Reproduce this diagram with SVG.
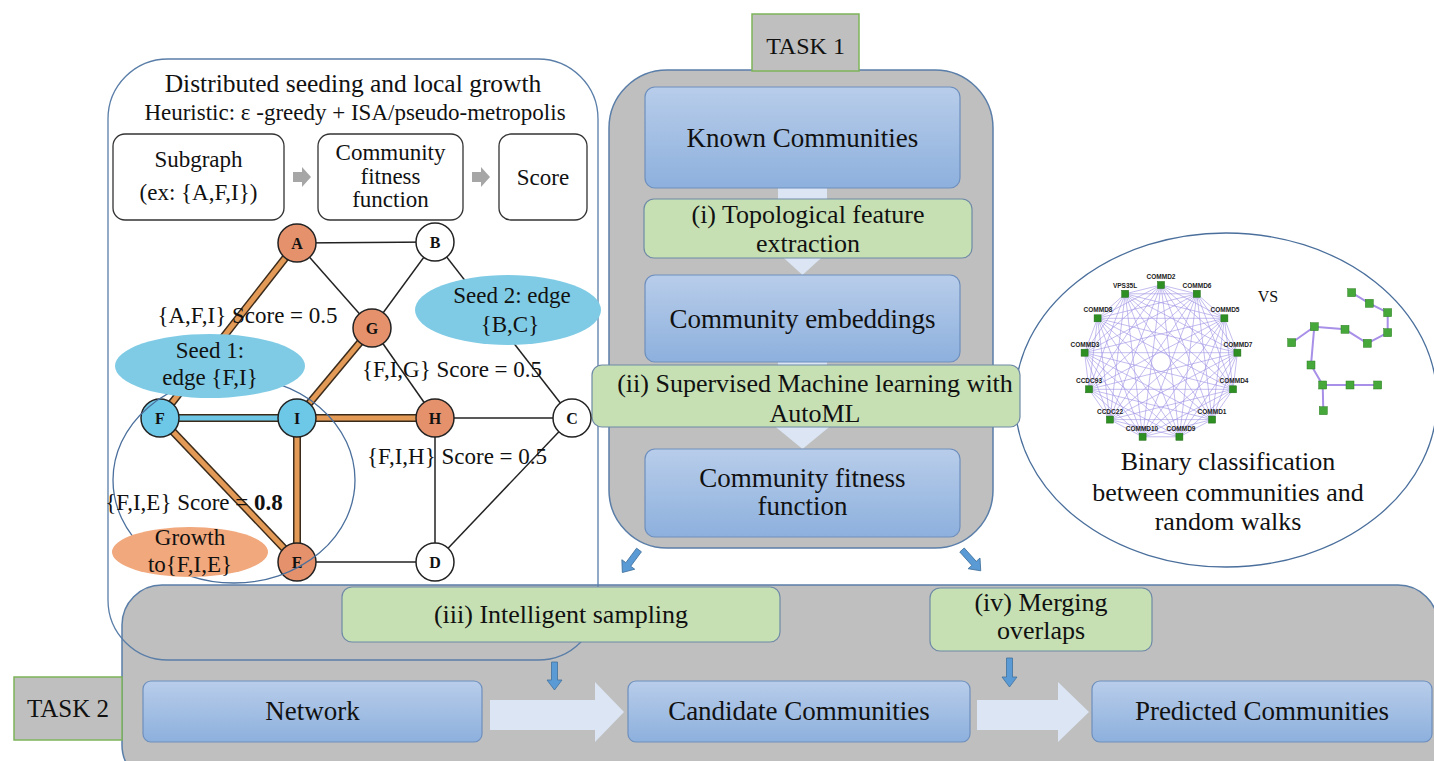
<svg xmlns="http://www.w3.org/2000/svg" width="1434" height="761" viewBox="0 0 1434 761">
<defs>
<linearGradient id="blue" x1="0" y1="0" x2="0" y2="1"><stop offset="0" stop-color="#b8cdea"/><stop offset="1" stop-color="#8db0dd"/></linearGradient>
<style>
text{font-family:'Liberation Serif','Times New Roman',serif;fill:#111;text-anchor:middle}
.gray{fill:#bfbfbf;stroke:#5a7ea8;stroke-width:1.5}
.bbox{fill:url(#blue);stroke:#6e8fbd;stroke-width:1.2}
.gbox{fill:#c6e0b4;stroke:#6f8aa6;stroke-width:1.2}
.task{fill:#bfbfbf;stroke:#7cb45a;stroke-width:1.5}
.lite{fill:#dbe5f3}
.barrow{fill:#5b9bd5;stroke:#41719c;stroke-width:0.8}
.wbox{fill:#fff;stroke:#333;stroke-width:1.3}
.garrow{fill:#a6a6a6}
.e{stroke:#222;stroke-width:1.5;fill:none}
.thk{stroke:#3a2a1a;stroke-width:8}
.or{stroke:#e39a56;stroke-width:5}
.bl{stroke:#6cc5e4;stroke-width:5}
.nw{fill:#fff;stroke:#222;stroke-width:1.5}
.no{fill:#e4916c;stroke:#222;stroke-width:1.5}
.nb{fill:#6dc7e6;stroke:#222;stroke-width:1.5}
.nl{font-weight:bold;font-size:16px}
.lab{font-size:23px}
.big{font-size:26px}
.k{stroke:#9c90e4;stroke-width:0.7;fill:none;stroke-opacity:0.85}
.sq{fill:#2e9022;stroke:#1d6a14;stroke-width:0.5}
.ql{font-family:'Liberation Sans',Arial,sans-serif;font-weight:bold;font-size:6.5px;fill:#222}
.rw{stroke:#a890e8;stroke-width:2;fill:none}
.rs{fill:#46a83a;stroke:#2f7f25;stroke-width:0.5}
.ell{fill:none;stroke:#4a6f9c;stroke-width:1.3}
</style>
</defs>
<rect x="0" y="0" width="1434" height="761" fill="#fff"/>

<g id="task2-panel">
<rect class="gray" x="122" y="585" width="1316" height="200" rx="40"/>
</g>
<g id="left-panel">
<rect x="108" y="59" width="490" height="601" rx="60" fill="none" stroke="#5a7ea8" stroke-width="1.3"/>
<text x="353" y="92" style="font-size:25.5px">Distributed seeding and local growth</text>
<text x="355" y="120" class="lab">Heuristic: ε -greedy + ISA/pseudo-metropolis</text>
</g>

<g id="task1-panel">
<rect class="gray" x="609" y="70" width="384" height="478" rx="58"/>
</g>
<g id="task1-label">
<rect class="task" x="752" y="14" width="107" height="57"/>
<text x="805.5" y="54" style="font-size:24px">TASK 1</text>
</g>

<g id="classification">
<ellipse class="ell" cx="1226" cy="400" rx="211" ry="167"/>
<g id="complete-graph">
<polygon class="k" points="1161,285 1196.8,293.8 1224.4,318.3 1237.4,352.7 1233,389.3 1212.1,419.6 1179.4,436.8 1142.6,436.8 1109.9,419.6 1089,389.3 1084.6,352.7 1097.6,318.3 1125.2,293.8"/>
<polygon class="k" points="1161,285 1224.4,318.3 1233,389.3 1179.4,436.8 1109.9,419.6 1084.6,352.7 1125.2,293.8 1196.8,293.8 1237.4,352.7 1212.1,419.6 1142.6,436.8 1089,389.3 1097.6,318.3"/>
<polygon class="k" points="1161,285 1237.4,352.7 1179.4,436.8 1089,389.3 1125.2,293.8 1224.4,318.3 1212.1,419.6 1109.9,419.6 1097.6,318.3 1196.8,293.8 1233,389.3 1142.6,436.8 1084.6,352.7"/>
<polygon class="k" points="1161,285 1233,389.3 1109.9,419.6 1125.2,293.8 1237.4,352.7 1142.6,436.8 1097.6,318.3 1224.4,318.3 1179.4,436.8 1084.6,352.7 1196.8,293.8 1212.1,419.6 1089,389.3"/>
<polygon class="k" points="1161,285 1212.1,419.6 1084.6,352.7 1224.4,318.3 1142.6,436.8 1125.2,293.8 1233,389.3 1089,389.3 1196.8,293.8 1179.4,436.8 1097.6,318.3 1237.4,352.7 1109.9,419.6"/>
<polygon class="k" points="1161,285 1179.4,436.8 1125.2,293.8 1212.1,419.6 1097.6,318.3 1233,389.3 1084.6,352.7 1237.4,352.7 1089,389.3 1224.4,318.3 1109.9,419.6 1196.8,293.8 1142.6,436.8"/>
<rect class="sq" x="1157.5" y="281.5" width="7" height="7"/>
<rect class="sq" x="1193.3" y="290.3" width="7" height="7"/>
<rect class="sq" x="1220.9" y="314.8" width="7" height="7"/>
<rect class="sq" x="1233.9" y="349.2" width="7" height="7"/>
<rect class="sq" x="1229.5" y="385.8" width="7" height="7"/>
<rect class="sq" x="1208.6" y="416.1" width="7" height="7"/>
<rect class="sq" x="1175.9" y="433.3" width="7" height="7"/>
<rect class="sq" x="1139.1" y="433.3" width="7" height="7"/>
<rect class="sq" x="1106.4" y="416.1" width="7" height="7"/>
<rect class="sq" x="1085.5" y="385.8" width="7" height="7"/>
<rect class="sq" x="1081.1" y="349.2" width="7" height="7"/>
<rect class="sq" x="1094.1" y="314.8" width="7" height="7"/>
<rect class="sq" x="1121.7" y="290.3" width="7" height="7"/>
<text class="ql" x="1161" y="279">COMMD2</text>
<text class="ql" x="1197" y="288">COMMD6</text>
<text class="ql" x="1225" y="312">COMMD5</text>
<text class="ql" x="1238" y="347">COMMD7</text>
<text class="ql" x="1234" y="383">COMMD4</text>
<text class="ql" x="1212" y="414">COMMD1</text>
<text class="ql" x="1181" y="431">COMMD9</text>
<text class="ql" x="1142" y="431">COMMD10</text>
<text class="ql" x="1110" y="414">CCDC22</text>
<text class="ql" x="1089" y="383">CCDC93</text>
<text class="ql" x="1085" y="347">COMMD3</text>
<text class="ql" x="1098" y="312">COMMD8</text>
<text class="ql" x="1125" y="288">VPS35L</text>
</g>
<text x="1268" y="302" style="font-size:16px">VS</text>
<g id="random-walk">
<polyline class="rw" points="1351.7,292.7 1369.3,303.3 1387.7,312.7 1387.7,332.7 1367.3,343.3 1345,329.3 1314.3,326.7 1291.7,342.7"/>
<polyline class="rw" points="1314.3,326.7 1311,365 1322.7,385 1350,385 1377.7,385"/>
<line class="rw" x1="1322.7" y1="385" x2="1323.3" y2="410.7"/>
<rect class="rs" x="1347.7" y="288.7" width="8" height="8"/>
<rect class="rs" x="1365.3" y="299.3" width="8" height="8"/>
<rect class="rs" x="1383.7" y="308.7" width="8" height="8"/>
<rect class="rs" x="1383.7" y="328.7" width="8" height="8"/>
<rect class="rs" x="1363.3" y="339.3" width="8" height="8"/>
<rect class="rs" x="1341" y="325.3" width="8" height="8"/>
<rect class="rs" x="1310.3" y="322.7" width="8" height="8"/>
<rect class="rs" x="1287.7" y="338.7" width="8" height="8"/>
<rect class="rs" x="1307" y="361" width="8" height="8"/>
<rect class="rs" x="1318.7" y="381" width="8" height="8"/>
<rect class="rs" x="1346" y="381" width="8" height="8"/>
<rect class="rs" x="1373.7" y="381" width="8" height="8"/>
<rect class="rs" x="1319.3" y="406.7" width="8" height="8"/>
</g>
<text class="big" x="1228" y="470">Binary classification</text>
<text class="big" x="1228" y="501">between communities and</text>
<text class="big" x="1228" y="530">random walks</text>
</g>

<g id="connectors">
<rect class="lite" x="778" y="188" width="49" height="55"/>
<polygon class="lite" points="764,240 841,240 802.5,275"/>
<rect class="lite" x="778" y="362" width="49" height="56"/>
<polygon class="lite" points="760,414 845,414 802.5,449"/>
<polygon class="lite" points="490,700 595,700 595,682 624,712 595,742 595,730 490,730"/>
<polygon class="lite" points="977,700 1058,700 1058,682 1089,712 1058,742 1058,730 977,730"/>
<polygon class="barrow" transform="translate(639,550) rotate(36.5)" points="-3,0 3,0 3,18 8,18 0,28 -8,18 -3,18"/>
<polygon class="barrow" transform="translate(962,550) rotate(-42)" points="-3,0 3,0 3,18 8,18 0,28 -8,18 -3,18"/>
<polygon class="barrow" points="551.5,662 557.5,662 557.5,680 562,680 554.5,690 547,680 551.5,680"/>
<polygon class="barrow" points="1006.5,658 1012.5,658 1012.5,677 1017,677 1009.5,687 1002,677 1006.5,677"/>
<polygon class="garrow" points="293,172 302,172 302,167 311,177 302,187 302,182 293,182"/>
<polygon class="garrow" points="472,172 481,172 481,167 490,177 481,187 481,182 472,182"/>
</g>

<g id="known-communities">
<rect class="bbox" x="645" y="87" width="315" height="101" rx="10"/>
<text x="802.5" y="147" style="font-size:27px">Known Communities</text>
</g>
<g id="topological">
<rect class="gbox" x="644" y="199" width="328" height="59" rx="10"/>
<text class="big" x="808" y="223">(i) Topological feature</text>
<text class="big" x="808" y="252">extraction</text>
</g>
<g id="community-embeddings">
<rect class="bbox" x="645" y="275" width="315" height="87" rx="10"/>
<text x="802.5" y="328" style="font-size:27px">Community embeddings</text>
</g>
<g id="supervised">
<rect class="gbox" x="592" y="365" width="428" height="62" rx="10"/>
<text class="big" x="815" y="392">(ii) Supervised Machine learning with</text>
<text class="big" x="815" y="422">AutoML</text>
</g>
<g id="fitness-function">
<rect class="bbox" x="645" y="449" width="315" height="88" rx="10"/>
<text x="802.5" y="487" style="font-size:27px">Community fitness</text>
<text x="802.5" y="515" style="font-size:27px">function</text>
</g>

<g id="subgraph">
<rect class="wbox" x="113" y="134" width="171" height="86" rx="12"/>
<text class="lab" x="198.5" y="167">Subgraph</text>
<text class="lab" x="198.5" y="200">(ex: {A,F,I})</text>
</g>
<g id="fitness-small">
<rect class="wbox" x="318" y="134" width="145" height="86" rx="12"/>
<text class="lab" x="390.5" y="160">Community</text>
<text class="lab" x="390.5" y="184">fitness</text>
<text class="lab" x="390.5" y="207">function</text>
</g>
<g id="score">
<rect class="wbox" x="499" y="134" width="88" height="86" rx="12"/>
<text class="lab" x="543" y="185">Score</text>
</g>

<g id="graph-edges">
<line class="e" x1="297" y1="243" x2="435" y2="242"/>
<line class="e" x1="297" y1="243" x2="372" y2="328"/>
<line class="e" x1="435" y1="242" x2="372" y2="328"/>
<line class="e" x1="435" y1="242" x2="572" y2="418"/>
<line class="e" x1="372" y1="328" x2="435" y2="418"/>
<line class="e" x1="435" y1="418" x2="572" y2="418"/>
<line class="e" x1="435" y1="418" x2="435" y2="562"/>
<line class="e" x1="435" y1="562" x2="572" y2="418"/>
<line class="e" x1="297" y1="562" x2="435" y2="562"/>
<line class="thk" x1="297" y1="243" x2="160" y2="418"/>
<line class="or" x1="297" y1="243" x2="160" y2="418"/>
<line class="thk" x1="372" y1="328" x2="297" y2="418"/>
<line class="or" x1="372" y1="328" x2="297" y2="418"/>
<line class="thk" x1="297" y1="418" x2="435" y2="418"/>
<line class="or" x1="297" y1="418" x2="435" y2="418"/>
<line class="thk" x1="297" y1="418" x2="297" y2="562"/>
<line class="or" x1="297" y1="418" x2="297" y2="562"/>
<line class="thk" x1="160" y1="418" x2="297" y2="562"/>
<line class="or" x1="160" y1="418" x2="297" y2="562"/>
<line class="thk" x1="160" y1="418" x2="297" y2="418"/>
<line class="bl" x1="160" y1="418" x2="297" y2="418"/>
</g>

<g id="node-A"><circle class="no" cx="297" cy="243" r="19"/><text class="nl" x="297" y="249">A</text></g>
<g id="node-B"><circle class="nw" cx="435" cy="242" r="19"/><text class="nl" x="435" y="248">B</text></g>
<g id="node-G"><circle class="no" cx="372" cy="328" r="19"/><text class="nl" x="372" y="334">G</text></g>
<g id="node-F"><circle class="nb" cx="160" cy="418" r="19"/><text class="nl" x="160" y="424">F</text></g>
<g id="node-I"><circle class="nb" cx="297" cy="418" r="19"/><text class="nl" x="297" y="424">I</text></g>
<g id="node-H"><circle class="no" cx="435" cy="418" r="19"/><text class="nl" x="435" y="424">H</text></g>
<g id="node-C"><circle class="nw" cx="572" cy="418" r="19"/><text class="nl" x="572" y="424">C</text></g>
<g id="node-E"><circle class="no" cx="297" cy="562" r="19"/><text class="nl" x="297" y="568">E</text></g>
<g id="node-D"><circle class="nw" cx="435" cy="562" r="19"/><text class="nl" x="435" y="568">D</text></g>

<ellipse class="ell" cx="234" cy="480" rx="121" ry="103"/>

<g id="seed1">
<ellipse cx="210" cy="366" rx="95" ry="32" fill="#7fcbe5"/>
<text class="lab" x="210" y="358">Seed 1:</text>
<text class="lab" x="210" y="385">edge {F,I}</text>
</g>
<g id="seed2">
<ellipse cx="508" cy="310" rx="93" ry="35" fill="#7fcbe5"/>
<text class="lab" x="512" y="303">Seed 2: edge</text>
<text class="lab" x="510" y="332">{B,C}</text>
</g>
<g id="growth">
<ellipse cx="190" cy="552" rx="78" ry="25" fill="#f0a87c"/>
<text class="lab" x="190" y="545">Growth</text>
<text class="lab" x="190" y="572">to{F,I,E}</text>
</g>
<text class="lab" x="247.5" y="323">{A,F,I} Score = 0.5</text>
<text class="lab" x="452" y="377">{F,I,G} Score = 0.5</text>
<text class="lab" x="457" y="464">{F,I,H} Score = 0.5</text>
<text class="lab" x="194" y="510">{F,I,E} Score = <tspan font-weight="bold">0.8</tspan></text>

<g id="sampling">
<rect class="gbox" x="342" y="587" width="438" height="55" rx="10"/>
<text class="big" x="561" y="623">(iii) Intelligent sampling</text>
</g>
<g id="merging">
<rect class="gbox" x="930" y="588" width="222" height="63" rx="10"/>
<text class="big" x="1041" y="611">(iv) Merging</text>
<text class="big" x="1041" y="639">overlaps</text>
</g>
<g id="task2-label">
<rect class="task" x="14" y="677" width="108" height="63"/>
<text x="68" y="717" style="font-size:25px">TASK 2</text>
</g>
<g id="network">
<rect class="bbox" x="143" y="681" width="339" height="61" rx="8"/>
<text x="312.5" y="720" style="font-size:27px">Network</text>
</g>
<g id="candidate">
<rect class="bbox" x="628" y="681" width="342" height="61" rx="8"/>
<text x="799" y="720" style="font-size:27px">Candidate Communities</text>
</g>
<g id="predicted">
<rect class="bbox" x="1092" y="681" width="340" height="61" rx="8"/>
<text x="1262" y="720" style="font-size:27px">Predicted Communities</text>
</g>
</svg>
